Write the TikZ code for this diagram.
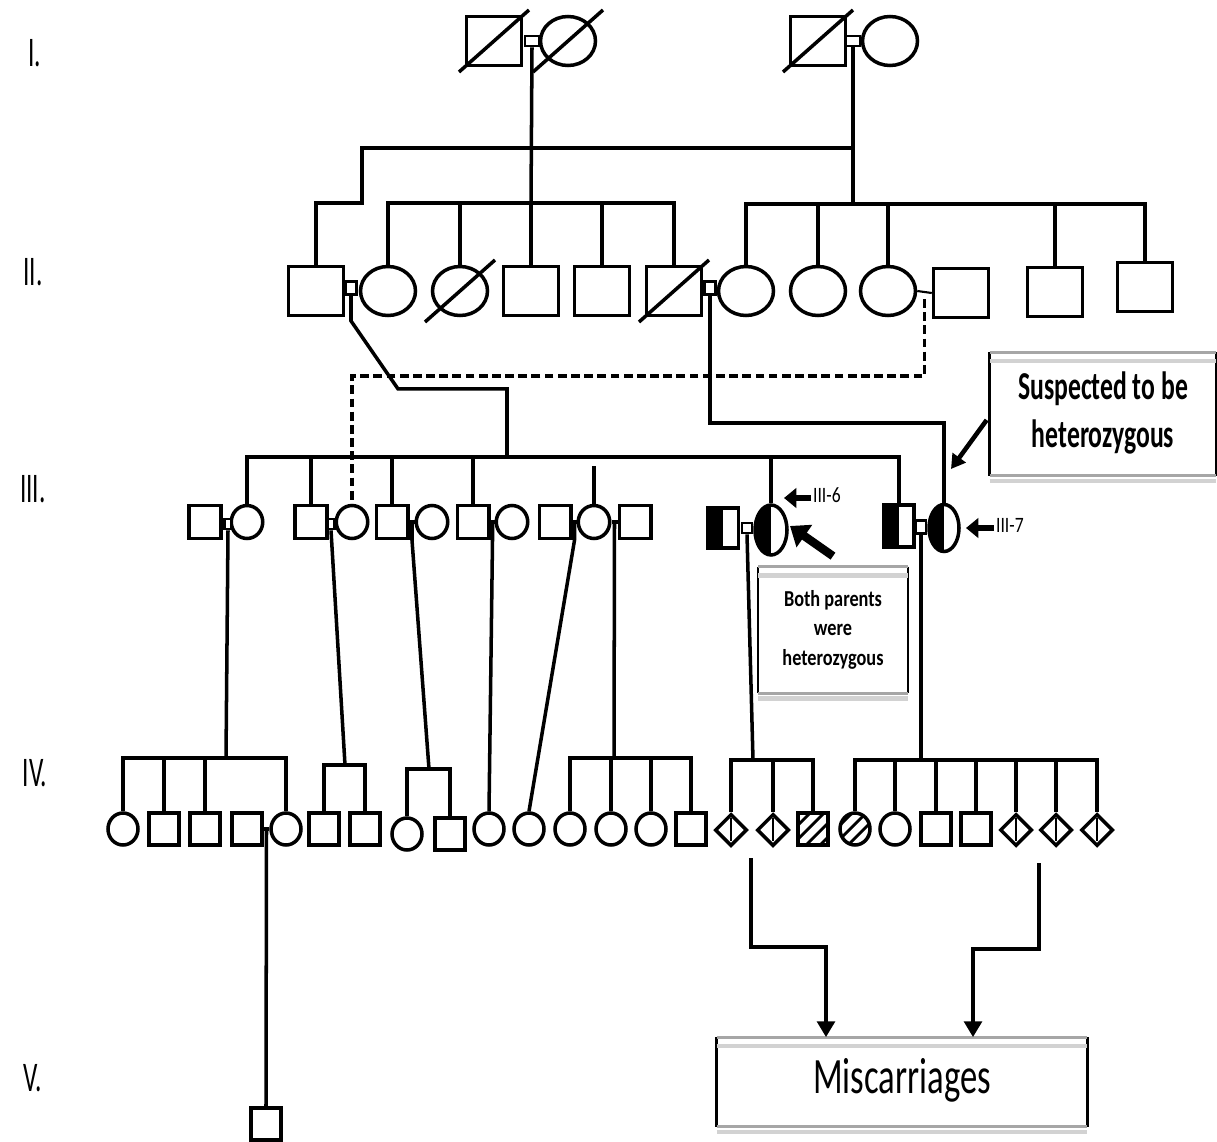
\documentclass[tikz,border=0pt]{standalone}
\usepackage{fontspec}
\setmainfont{Carlito}
\usepackage{graphicx}
\usetikzlibrary{shapes.geometric,arrows.meta,calc}

\newcommand\squeeze[2][0.65]{\scalebox{#1}[1]{\begin{tabular}{@{}c@{}}#2\end{tabular}}}

\tikzset{
  kin/.style={line width=2pt},
  heavy/.style={line width=2.8pt},
  halfsib/.style={line width=2.2pt, dash pattern=on 5pt off 2.5pt},
  person/.style={draw, line width=2pt, fill=white, inner sep=0pt},
  male/.style={person, rectangle},
  female/.style={person, ellipse},
  loss/.style={person, diamond, minimum width=0.64cm, minimum height=0.64cm},
  wed/.style 2 args={draw, line width=1.6pt, fill=white, inner sep=0pt, minimum width=#1, minimum height=#2},
  sizeA/.style={minimum width=1.1cm, minimum height=0.98cm},
  sizeB/.style={minimum width=0.63cm, minimum height=0.66cm},
  sizeC/.style={minimum width=0.6cm, minimum height=0.64cm},
  carrier/.style={path picture={\fill[black] (path picture bounding box.north west) rectangle (path picture bounding box.south);}},
  hatched/.style={path picture={\foreach \d in {-20,-6,8,22}
      \draw[line width=1.6pt] ($(path picture bounding box.south west)+(\d,0)$) -- ++(40,-40);}},
  gen/.style={font=\fontsize{24}{28}\selectfont},
  tag/.style={inner sep=1pt, anchor=west, font=\fontsize{12.5}{14}\selectfont},
  tagarrow/.style={line width=3.2pt, -{Triangle[length=7pt,width=11pt]}},
  fatarrow/.style={line width=4.8pt, -{Triangle[length=10pt,width=15pt]}},
  calloutarrow/.style={line width=2.6pt, -{Triangle[length=8pt,width=9pt]}},
  bigarrow/.style={line width=2.8pt, -{Triangle[length=9pt,width=10pt]}},
  note/.style={inner sep=0pt}
}

\begin{document}
\begin{tikzpicture}[x=0.02cm,y=-0.02cm]
\fill[white] (0,0) rectangle (1217,1142);
\useasboundingbox (0,0) rectangle (1217,1142);

% generation labels
\node[gen] (labI) at (35,57) {\squeeze[0.6]{I.}};
\node[gen] (labII) at (33,276) {\squeeze[0.6]{II.}};
\node[gen] (labIII) at (33,493) {\squeeze[0.6]{III.}};
\node[gen] (labIV) at (35,777) {\squeeze[0.6]{IV.}};
\node[gen] (labV) at (33,1082) {\squeeze[0.6]{V.}};

% generation I
\node[male,sizeA] (I1) at (494,41) {};
\node[female,sizeA] (I2) at (568,41) {};
\node[wed={0.28cm}{0.2cm}] (mI1) at (532,41) {};
\node[male,sizeA] (I3) at (818,41) {};
\node[female,sizeA] (I4) at (890,41) {};
\node[wed={0.28cm}{0.2cm}] (mI2) at (853,41) {};

% generation II
\node[male,sizeA] (II1) at (316,291) {};
\node[female,sizeA] (II2) at (388,291) {};
\node[female,sizeA] (II3) at (460,291) {};
\node[male,sizeA] (II4) at (531,291) {};
\node[male,sizeA] (II5) at (602,291) {};
\node[male,sizeA] (II6) at (674,291) {};
\node[female,sizeA] (II7) at (746,291) {};
\node[female,sizeA] (II8) at (818,291) {};
\node[female,sizeA] (II9) at (888,291) {};
\node[male,sizeA] (II10) at (961,293) {};
\node[male,sizeA] (II11) at (1055,292) {};
\node[male,sizeA] (II12) at (1145,287) {};
\node[wed={0.22cm}{0.26cm}] (mII1) at (351,288) {};
\node[wed={0.22cm}{0.26cm}] (mII2) at (710,288) {};

% deceased
\foreach \p in {I1,I2,I3,II3,II6}
  \draw[kin] ($(\p.center)+(-35,31)$) -- ($(\p.center)+(35,-31)$);

% generation III
\node[male,sizeB] (IIIa1) at (205,522) {};
\node[female,sizeB] (IIIa2) at (247,522) {};
\node[wed={0.14cm}{0.2cm}] (mIIIa) at (228,524) {};
\node[male,sizeB] (IIIb1) at (311,522) {};
\node[female,sizeB] (IIIb2) at (352,522) {};
\node[wed={0.14cm}{0.2cm}] (mIIIb) at (331,524) {};
\node[male,sizeB] (IIIc1) at (392,522) {};
\node[female,sizeB] (IIIc2) at (432,522) {};
\node[male,sizeB] (IIId1) at (473,522) {};
\node[female,sizeB] (IIId2) at (512,522) {};
\node[male,sizeB] (IIIe1) at (555,522) {};
\node[female,sizeB] (IIIe2) at (594,522) {};
\node[male,sizeB] (IIIe3) at (635,522) {};
\node[male,carrier,minimum width=0.62cm,minimum height=0.8cm] (III5) at (723,528) {};
\node[female,carrier,minimum width=0.64cm,minimum height=1.0cm] (III6) at (771,530) {};
\node[wed={0.2cm}{0.2cm}] (mIII5) at (747,528) {};
\node[male,carrier,minimum width=0.6cm,minimum height=0.84cm] (III8) at (899,526) {};
\node[female,carrier,minimum width=0.6cm,minimum height=0.94cm] (III7) at (944,528) {};
\node[wed={0.2cm}{0.26cm}] (mIII7) at (921,527) {};

% generation IV
\node[female,sizeC] (IV1) at (123,829) {};
\node[male,sizeC] (IV2) at (164,829) {};
\node[male,sizeC] (IV3) at (205,829) {};
\node[male,sizeC] (IV4) at (247,829) {};
\node[female,sizeC] (IV5) at (286,829) {};
\node[male,sizeC] (IV6) at (324,829) {};
\node[male,sizeC] (IV7) at (365,829) {};
\node[female,sizeC] (IV8) at (407,834) {};
\node[male,sizeC] (IV9) at (450,834) {};
\node[female,sizeC] (IV10) at (489,829) {};
\node[female,sizeC] (IV11) at (529,829) {};
\node[female,sizeC] (IV12) at (570,829) {};
\node[female,sizeC] (IV13) at (611,829) {};
\node[female,sizeC] (IV14) at (651,829) {};
\node[male,sizeC] (IV15) at (691,829) {};
\node[loss] (IV16) at (731,830) {};
\node[loss] (IV17) at (773,830) {};
\node[male,sizeC,hatched] (IV18) at (813,829) {};
\node[female,sizeC,hatched] (IV19) at (855,829) {};
\node[female,sizeC] (IV20) at (895,829) {};
\node[male,sizeC] (IV21) at (936,829) {};
\node[male,sizeC] (IV22) at (976,829) {};
\node[loss] (IV23) at (1016,830) {};
\node[loss] (IV24) at (1056,830) {};
\node[loss] (IV25) at (1097,830) {};
\foreach \d in {IV16,IV17,IV23,IV24,IV25}
  \draw[line width=1.6pt] ([yshift=-3pt]\d.north) -- ([yshift=4pt]\d.south);

% generation V
\node[male,sizeC] (V1) at (266,1124) {};

% I -> II
\coordinate (sibA) at (531,203);
\coordinate (sibB) at (853,204);
\coordinate (jog) at (362,203);
\coordinate (topbar) at (853,148);
\draw[kin] (mI1.south) -- (sibA);
\draw[kin] (II2.north) |- (sibA) -| (II6.north);
\foreach \c in {II3,II4,II5} \draw[kin] (\c.north) -- (\c.north |- sibA);
\draw[kin] (mI2.south) -- (sibB);
\draw[kin] (II7.north) |- (sibB) -| (II12.north);
\foreach \c in {II8,II9,II11} \draw[kin] (\c.north) -- (\c.north |- sibB);
\draw[heavy] (II1.north) |- (jog) |- (topbar);

% II -> III
\coordinate (sibC) at (507,457);
\coordinate (lk9) at ($(II9.east)!0.5!(II10.west)$);
\coordinate (dashknee) at (352,376);
\draw[line width=1.2pt] (II9.east) -- (II10.west);
\draw[kin] (mII1.south) -- ++(0,25) -- ++(47,68) -| (sibC);
\draw[kin] (IIIa2.north) |- (sibC) -| (III8.north);
\foreach \c in {IIIb1,IIIc1,IIId1,III6} \draw[kin] (\c.north) -- (\c.north |- sibC);
\draw[kin] (IIIe2.north) -- ++(0,-38);
\draw[kin] (mII2.south) -- ++(0,127) -| (III7.north);
\draw[halfsib] ([yshift=-4pt]lk9) |- (dashknee) -- (IIIb2.north);

% spouses in III
\foreach \a/\b/\l in {IIIc1/IIIc2/lkc, IIId1/IIId2/lkd, IIIe1/IIIe2/lke, IIIe2/IIIe3/lkf}{
  \draw[kin] (\a.east) -- (\b.west);
  \coordinate (\l) at ($(\a.east)!0.5!(\b.west)$);
}

% III -> IV
\coordinate (s1) at (226,758);
\coordinate (s2) at (345,765);
\coordinate (s3) at (429,769);
\coordinate (s4) at (614,758);
\coordinate (s5) at (753,760);
\coordinate (s6) at (921,760);
\draw[kin] (mIIIa.south) -- (s1);
\draw[kin] (IV1.north) |- (s1) -| (IV5.north);
\foreach \c in {IV2,IV3} \draw[kin] (\c.north) -- (\c.north |- s1);
\draw[kin] (mIIIb.south) -- (s2);
\draw[kin] (IV6.north) |- (s2) -| (IV7.north);
\draw[kin] (lkc) -- (lkc |- IIIc1.south) -- (s3);
\draw[kin] (IV8.north) |- (s3) -| (IV9.north);
\draw[kin] (lkd) -- (lkd |- IIId1.south) -- (IV10.north);
\draw[kin] (lke) -- (lke |- IIIe1.south) -- (IV11.north);
\draw[kin] (lkf) -- (s4);
\draw[kin] (IV12.north) |- (s4) -| (IV15.north);
\foreach \c in {IV13,IV14} \draw[kin] (\c.north) -- (\c.north |- s4);
\draw[kin] (mIII5.south) -- (s5);
\draw[kin] (IV16.north) |- (s5) -| (IV18.north);
\draw[kin] (IV17.north) -- (IV17.north |- s5);
\draw[kin] (mIII7.south) -- (s6);
\draw[kin] (IV19.north) |- (s6) -| (IV25.north);
\foreach \c in {IV20,IV21,IV22,IV23,IV24} \draw[kin] (\c.north) -- (\c.north |- s6);

% IV -> V
\coordinate (lkV) at ($(IV4.east)!0.5!(IV5.west)$);
\draw[kin] (IV4.east) -- (IV5.west);
\draw[kin] (lkV) -- (V1.north);

% notes
\node[note,minimum width=4.52cm,minimum height=2.46cm] (sus) at (1103,414)
  {\fontsize{22.5}{27}\selectfont\bfseries\squeeze{Suspected to be\\heterozygous}};
\node[note,minimum width=2.98cm,minimum height=2.52cm] (both) at (833,630)
  {\fontsize{13}{17}\selectfont\bfseries\squeeze[0.8]{Both parents\\were\\heterozygous}};
\node[note,minimum width=7.4cm,minimum height=1.78cm] (misc) at (902,1082)
  {\fontsize{29}{32}\selectfont\squeeze[0.68]{Miscarriages}};
\foreach \b in {sus,both,misc}{
  \draw[line width=1.4pt] (\b.north west) -- (\b.south west) (\b.north east) -- (\b.south east);
  \draw[gray!70,line width=1.6pt] (\b.north west) -- (\b.north east) (\b.south west) -- (\b.south east);
  \draw[gray!35,line width=2.5pt] ([yshift=-5pt]\b.north west) -- ([yshift=-5pt]\b.north east)
    ([yshift=-3pt]\b.south west) -- ([yshift=-3pt]\b.south east);
}

% pointers
\node[tag] (tag6) at (811,498) {\squeeze[0.8]{III-6}};
\node[tag] (tag7) at (994,528) {\squeeze[0.8]{III-7}};
\coordinate (tip6) at (784,498);
\coordinate (tip7) at (966,528);
\coordinate (tipSus) at (951,469);
\coordinate (tipBoth) at (790,526);
\draw[tagarrow] (tag6.west) -- (tip6);
\draw[tagarrow] (tag7.west) -- (tip7);
\draw[calloutarrow] ($(sus.west)+(-3,6)$) -- (tipSus);
\draw[fatarrow] ([yshift=6pt]both.north) -- (tipBoth);

% miscarriage arrows
\coordinate (fromL) at (751,858);
\coordinate (kneeL) at (826,947);
\coordinate (fromR) at (1039,863);
\coordinate (kneeR) at (973,949);
\draw[bigarrow] (fromL) |- (kneeL) -- (kneeL |- misc.north);
\draw[bigarrow] (fromR) |- (kneeR) -- (kneeR |- misc.north);
\end{tikzpicture}
\end{document}
